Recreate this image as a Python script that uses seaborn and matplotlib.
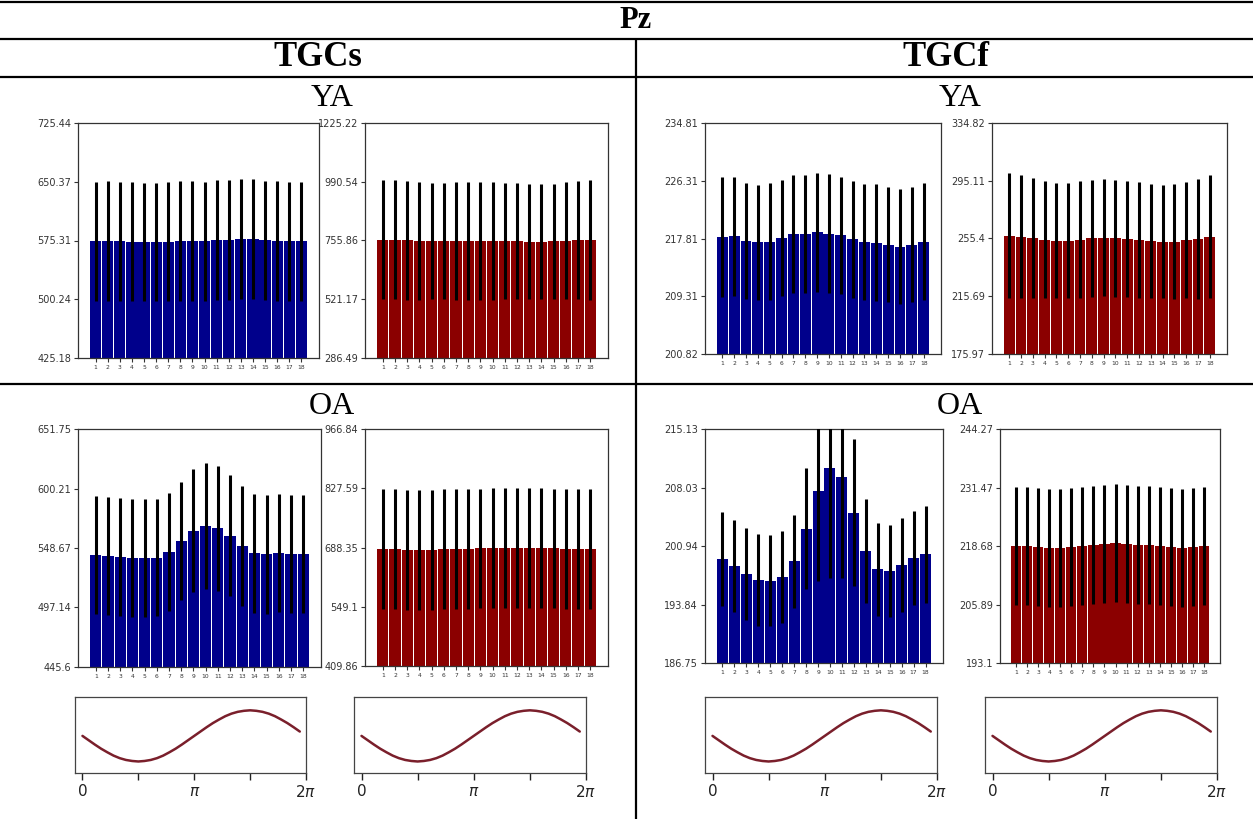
import numpy as np
import pandas as pd
import matplotlib
matplotlib.use("Agg")
import matplotlib.pyplot as plt
import seaborn as sns

W, H = 1253, 819

# ---------------- data ----------------
phase_labels = [str(i) for i in range(1, 19)]

# YA, TGCs
ya_tgcs_blue_mean = [574.2, 574.6, 574.2, 573.8, 573.4, 573.6, 573.8, 574.2, 574.6,
                     574.2, 575.5, 576.5, 577.0, 577.3, 575.5, 574.6, 574.2, 574.2]
ya_tgcs_blue_sd = [75.8, 76.2, 76.0, 75.8, 75.4, 75.8, 76.2, 76.6, 76.6,
                   76.2, 76.6, 76.6, 76.6, 76.8, 76.0, 76.2, 76.2, 75.8]
ya_tgcs_blue_ticks = ["425.18", "500.24", "575.31", "650.37", "725.44"]

ya_tgcs_red_mean = [759.2, 759.2, 756.5, 755.2, 753.9, 753.9, 753.9, 753.9, 753.9,
                    753.9, 753.9, 752.5, 751.2, 751.2, 752.5, 755.2, 756.5, 757.9]
ya_tgcs_red_sd = [238, 238, 237, 236, 233, 232, 234, 234, 236,
                  236, 233, 232, 230, 229, 230, 233, 236, 238]
ya_tgcs_red_ticks = ["286.49", "521.17", "755.86", "990.54", "1225.22"]

# YA, TGCf
ya_tgcf_blue_mean = [218.06, 218.16, 217.47, 217.27, 217.37, 217.86, 218.46, 218.46, 218.70,
                     218.50, 218.26, 217.72, 217.27, 217.22, 216.93, 216.63, 216.93, 217.37]
ya_tgcf_blue_sd = [8.87, 8.77, 8.57, 8.47, 8.57, 8.57, 8.72, 8.67, 8.72,
                   8.77, 8.67, 8.62, 8.57, 8.57, 8.52, 8.42, 8.52, 8.67]
ya_tgcf_blue_ticks = ["200.82", "209.31", "217.81", "226.31", "234.81"]

ya_tgcf_red_mean = [257.23, 256.77, 255.85, 254.70, 253.78, 254.01, 254.70, 255.62, 256.08,
                    255.62, 255.16, 254.32, 253.78, 253.32, 253.32, 254.32, 255.16, 256.54]
ya_tgcf_red_sd = [43.0, 42.4, 41.2, 40.3, 39.6, 39.4, 40.1, 40.3, 40.3,
                  40.3, 40.1, 39.6, 39.1, 38.7, 39.6, 40.1, 41.4, 42.4]
ya_tgcf_red_ticks = ["175.97", "215.69", "255.4", "295.11", "334.82"]

# OA, TGCs
oa_tgcs_blue_mean = [542.59, 542.01, 540.85, 539.98, 539.70, 540.27, 545.49, 555.04, 563.72,
                     567.49, 565.75, 559.38, 550.41, 544.04, 543.17, 544.62, 543.75, 543.17]
oa_tgcs_blue_sd = [50.7, 51.2, 51.0, 51.0, 51.0, 50.7, 51.0, 51.2, 53.0,
                   54.4, 53.9, 52.4, 51.8, 51.8, 51.8, 51.2, 51.2, 51.0]
oa_tgcs_blue_ticks = ["445.6", "497.14", "548.67", "600.21", "651.75"]

oa_tgcs_red_mean = [684.5, 684.0, 683.5, 683.5, 683.5, 684.0, 684.5, 685.5, 686.0,
                    686.5, 687.0, 687.0, 687.0, 686.5, 686.0, 685.5, 685.0, 685.0]
oa_tgcs_red_sd = [141, 141, 141, 141, 141, 141, 141, 141, 141,
                  141, 141, 141, 141, 141, 141, 141, 141, 141]
oa_tgcs_red_ticks = ["409.86", "549.1", "688.35", "827.59", "966.84"]

# OA, TGCf
oa_tgcf_blue_mean = [199.40, 198.51, 197.54, 196.81, 196.73, 197.17, 199.08, 203.05, 207.63,
                     210.35, 209.34, 205.00, 200.29, 198.14, 197.90, 198.63, 199.48, 199.93]
oa_tgcf_blue_sd = [5.7, 5.6, 5.55, 5.58, 5.55, 5.55, 5.6, 7.35, 10.9,
                   13.26, 12.25, 8.9, 6.3, 5.65, 5.55, 5.67, 5.75, 5.9]
oa_tgcf_blue_ticks = ["186.75", "193.84", "200.94", "208.03", "215.13"]

oa_tgcf_red_mean = [218.7, 218.6, 218.4, 218.3, 218.3, 218.4, 218.6, 218.9, 219.2,
                    219.3, 219.2, 219.0, 218.8, 218.6, 218.4, 218.3, 218.5, 218.7]
oa_tgcf_red_sd = [12.9, 12.9, 12.9, 12.9, 12.9, 12.9, 12.9, 12.9, 12.9,
                  12.9, 12.9, 12.9, 12.9, 12.9, 12.9, 12.9, 12.9, 12.9]
oa_tgcf_red_ticks = ["193.1", "205.89", "218.68", "231.47", "244.27"]

# reference phase wave (read at 10 degree steps)
wave_deg = list(range(0, 360, 10))
wave_amp = [0.0, -0.17, -0.34, -0.5, -0.64, -0.77, -0.87, -0.94, -0.98, -1.0, -0.98, -0.94,
            -0.87, -0.77, -0.64, -0.5, -0.34, -0.17, 0.0, 0.17, 0.34, 0.5, 0.64, 0.77,
            0.87, 0.94, 0.98, 1.0, 0.98, 0.94, 0.87, 0.77, 0.64, 0.5, 0.34, 0.17]

header_title = "Pz"
group_titles = ["TGCs", "TGCf"]
age_titles = ["YA", "OA"]
wave_tick_labels = ["0", "", r"$\pi$", "", r"$2\pi$"]

BLUE = "#00008B"
RED = "#8B0000"
WAVE = "#7a1f2b"

# ---------------- figure ----------------
sns.set_style("white")
plt.rcParams["font.family"] = ["DejaVu Sans"]
plt.rcParams["text.color"] = "black"

fig = plt.figure(figsize=(W / 100, H / 100), dpi=100)


def px_rect(x0, y0, x1, y1):
    return [x0 / W, 1 - y1 / H, (x1 - x0) / W, (y1 - y0) / H]


# background "table"
bg = fig.add_axes([0, 0, 1, 1])
bg.set_xlim(0, W)
bg.set_ylim(H, 0)
bg.axis("off")
lc = dict(color="black", lw=1.6, solid_capstyle="butt")
bg.plot([0, W], [2, 2], **lc)
bg.plot([0, W], [39, 39], **lc)
bg.plot([0, W], [77, 77], **lc)
bg.plot([0, W], [384, 384], **lc)
bg.plot([636, 636], [39, H], **lc)
serif = "Liberation Serif"
bg.text(636, 21, header_title, ha="center", va="center", fontsize=22,
        fontweight="bold", family=serif, color="black")
bg.text(318, 58, group_titles[0], ha="center", va="center", fontsize=25,
        fontweight="bold", family=serif, color="black")
bg.text(946, 58, group_titles[1], ha="center", va="center", fontsize=25,
        fontweight="bold", family=serif, color="black")
for xc in (332, 960):
    bg.text(xc, 99, age_titles[0], ha="center", va="center", fontsize=23,
            family=serif, color="black")
    bg.text(xc, 406, age_titles[1], ha="center", va="center", fontsize=23,
            family=serif, color="black")


def bar_panel(rect, means, sds, tick_labels, color):
    ax = fig.add_axes(px_rect(*rect))
    df = pd.DataFrame({"phase": phase_labels, "value": means})
    sns.barplot(data=df, x="phase", y="value", order=phase_labels, color=color,
                saturation=1, width=0.92, errorbar=None, linewidth=0, ax=ax)
    ax.errorbar(np.arange(len(means)), means, yerr=sds, fmt="none", ecolor="black",
                elinewidth=2.2, capsize=0, zorder=3)
    ticks = [float(t) for t in tick_labels]
    ax.set_ylim(ticks[0], ticks[-1])
    ax.set_yticks(ticks)
    ax.set_yticklabels(tick_labels)
    ax.set_xlim(-1.46, 18.46)
    ax.set_xlabel("")
    ax.set_ylabel("")
    ax.tick_params(axis="y", labelsize=7, length=3, width=0.8, colors="#333333", pad=2)
    ax.tick_params(axis="x", labelsize=4.3, length=3, width=0.8, colors="#333333", pad=2)
    ax.tick_params(left=True, bottom=True, direction="out")
    for s in ax.spines.values():
        s.set_visible(True)
        s.set_color("#333333")
        s.set_linewidth(0.9)
    return ax


bar_panel((78, 123, 319, 358), ya_tgcs_blue_mean, ya_tgcs_blue_sd, ya_tgcs_blue_ticks, BLUE)
bar_panel((365, 123, 608, 358), ya_tgcs_red_mean, ya_tgcs_red_sd, ya_tgcs_red_ticks, RED)
bar_panel((705, 123, 941, 354), ya_tgcf_blue_mean, ya_tgcf_blue_sd, ya_tgcf_blue_ticks, BLUE)
bar_panel((992, 123, 1227, 354), ya_tgcf_red_mean, ya_tgcf_red_sd, ya_tgcf_red_ticks, RED)
bar_panel((78, 429, 321, 667), oa_tgcs_blue_mean, oa_tgcs_blue_sd, oa_tgcs_blue_ticks, BLUE)
bar_panel((365, 429, 608, 666), oa_tgcs_red_mean, oa_tgcs_red_sd, oa_tgcs_red_ticks, RED)
bar_panel((705, 429, 943, 663), oa_tgcf_blue_mean, oa_tgcf_blue_sd, oa_tgcf_blue_ticks, BLUE)
bar_panel((1000, 429, 1220, 663), oa_tgcf_red_mean, oa_tgcf_red_sd, oa_tgcf_red_ticks, RED)


def wave_panel(rect):
    ax = fig.add_axes(px_rect(*rect))
    wx = np.deg2rad(wave_deg)
    sns.lineplot(x=wx, y=wave_amp, color=WAVE, lw=1.8, ax=ax)
    ax.set_xlim(-0.21, 2 * np.pi)
    ax.set_ylim(-1.45, 1.52)
    ax.set_xticks([0, np.pi / 2, np.pi, 3 * np.pi / 2, 2 * np.pi])
    ax.set_xticklabels(wave_tick_labels)
    ax.set_yticks([])
    ax.tick_params(axis="x", labelsize=11, length=5, width=1, colors="#222222",
                   direction="out", bottom=True, pad=3)
    for s in ax.spines.values():
        s.set_visible(True)
        s.set_color("#444444")
        s.set_linewidth(0.9)
    return ax


wave_panel((75, 697, 306, 773))
wave_panel((354, 697, 586, 773))
wave_panel((705, 697, 937, 773))
wave_panel((985, 697, 1217, 773))

fig.savefig("out.png", dpi=100)
